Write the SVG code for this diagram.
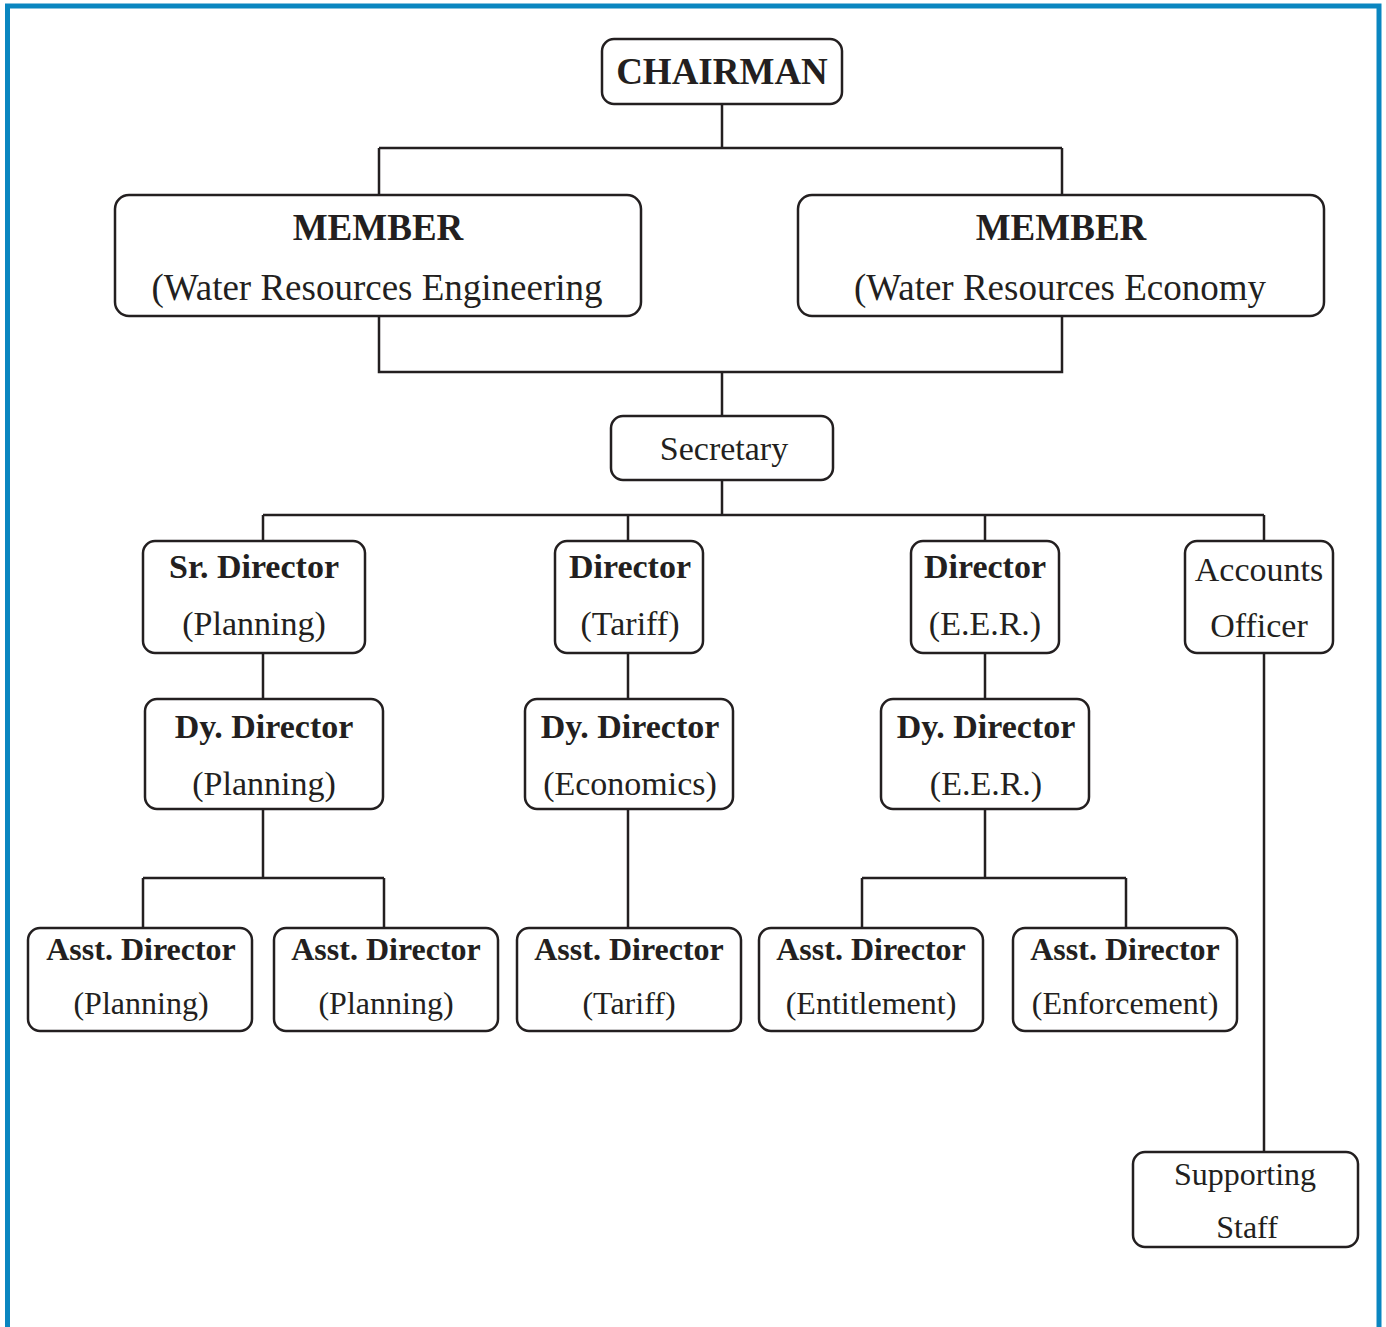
<svg xmlns="http://www.w3.org/2000/svg" width="1386" height="1327" viewBox="0 0 1386 1327">
<style>
.box{fill:#fff;stroke:#231f20;stroke-width:2.5}
.ln{fill:none;stroke:#231f20;stroke-width:2.5}
text{font-family:"Liberation Serif","Times New Roman",serif;fill:#231f20;text-anchor:middle}
.b{font-weight:bold}
.t37{font-size:37px}
.t34{font-size:34px}
.t32{font-size:32px}
</style>
<rect x="0" y="0" width="1386" height="1327" fill="#fff"/>
<rect x="7.5" y="6" width="1371.5" height="1340" fill="none" stroke="#0a86c0" stroke-width="5"/>
<g id="connectors" class="ln">
<path d="M722,104V148M379,148H1062M379,148V195M1062,148V195"/>
<path d="M379,316V372H1062V316M722,372V416"/>
<path d="M722,480V515M263,515H1264M263,515V541M628,515V541M985,515V541M1264,515V541"/>
<path d="M263,653V699M628,653V699M985,653V699"/>
<path d="M263,809V878M143,878H384M143,878V928M384,878V928"/>
<path d="M628,809V928"/>
<path d="M985,809V878M862,878H1126M862,878V928M1126,878V928"/>
<path d="M1264,653V1152"/>
</g>
<g id="chairman"><rect class="box" x="602" y="39" width="240" height="65" rx="12"/><text class="b t37" x="722" y="84">CHAIRMAN</text></g>
<g id="member-eng"><rect class="box" x="115" y="195" width="526" height="121" rx="14"/><text class="b t37" x="378" y="240">MEMBER</text><text class="t37" x="377" y="300">(Water Resources Engineering</text></g>
<g id="member-eco"><rect class="box" x="798" y="195" width="526" height="121" rx="14"/><text class="b t37" x="1061" y="240">MEMBER</text><text class="t37" x="1060" y="300">(Water Resources Economy</text></g>
<g id="secretary"><rect class="box" x="611" y="416" width="222" height="64" rx="12"/><text class="t34" x="724" y="460">Secretary</text></g>
<g id="sr-director"><rect class="box" x="143" y="541" width="222" height="112" rx="12"/><text class="b t34" x="254" y="578">Sr. Director</text><text class="t34" x="254" y="635">(Planning)</text></g>
<g id="director-tariff"><rect class="box" x="555" y="541" width="148" height="112" rx="12"/><text class="b t34" x="630" y="578">Director</text><text class="t34" x="630" y="635">(Tariff)</text></g>
<g id="director-eer"><rect class="box" x="911" y="541" width="148" height="112" rx="12"/><text class="b t34" x="985" y="578">Director</text><text class="t34" x="985" y="635">(E.E.R.)</text></g>
<g id="accounts-officer"><rect class="box" x="1185" y="541" width="148" height="112" rx="12"/><text class="t34" x="1259" y="581">Accounts</text><text class="t34" x="1259" y="637">Officer</text></g>
<g id="dy-director-planning"><rect class="box" x="145" y="699" width="238" height="110" rx="12"/><text class="b t34" x="264" y="738">Dy. Director</text><text class="t34" x="264" y="795">(Planning)</text></g>
<g id="dy-director-economics"><rect class="box" x="525" y="699" width="208" height="110" rx="12"/><text class="b t34" x="630" y="738">Dy. Director</text><text class="t34" x="630" y="795">(Economics)</text></g>
<g id="dy-director-eer"><rect class="box" x="881" y="699" width="208" height="110" rx="12"/><text class="b t34" x="986" y="738">Dy. Director</text><text class="t34" x="986" y="795">(E.E.R.)</text></g>
<g id="asst-planning-1"><rect class="box" x="28" y="928" width="224" height="103" rx="12"/><text class="b t32" x="141" y="960">Asst. Director</text><text class="t32" x="141" y="1014">(Planning)</text></g>
<g id="asst-planning-2"><rect class="box" x="274" y="928" width="224" height="103" rx="12"/><text class="b t32" x="386" y="960">Asst. Director</text><text class="t32" x="386" y="1014">(Planning)</text></g>
<g id="asst-tariff"><rect class="box" x="517" y="928" width="224" height="103" rx="12"/><text class="b t32" x="629" y="960">Asst. Director</text><text class="t32" x="629" y="1014">(Tariff)</text></g>
<g id="asst-entitlement"><rect class="box" x="759" y="928" width="224" height="103" rx="12"/><text class="b t32" x="871" y="960">Asst. Director</text><text class="t32" x="871" y="1014">(Entitlement)</text></g>
<g id="asst-enforcement"><rect class="box" x="1013" y="928" width="224" height="103" rx="12"/><text class="b t32" x="1125" y="960">Asst. Director</text><text class="t32" x="1125" y="1014">(Enforcement)</text></g>
<g id="supporting-staff"><rect class="box" x="1133" y="1152" width="225" height="95" rx="12"/><text class="t32" x="1245" y="1185">Supporting</text><text class="t32" x="1247" y="1238">Staff</text></g>
</svg>
